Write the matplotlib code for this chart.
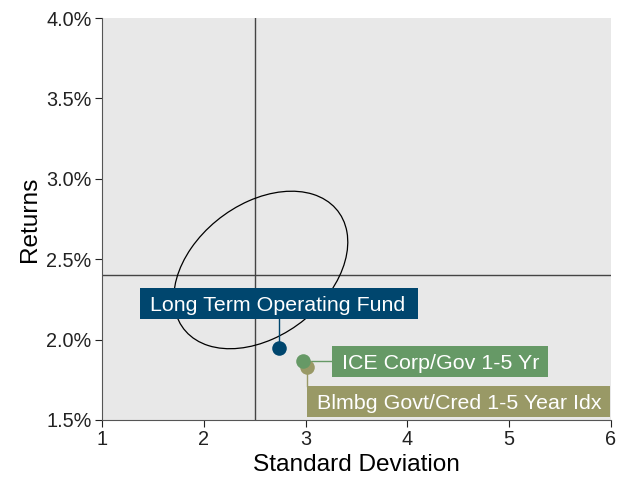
import matplotlib
matplotlib.use("Agg")
import matplotlib.pyplot as plt
from matplotlib.patches import Ellipse, Rectangle
from matplotlib.ticker import FuncFormatter

plt.rcParams["font.family"] = ["Liberation Sans", "DejaVu Sans"]

# risk / return per series (std dev, return %)
names = ["Blmbg Govt/Cred 1-5 Year Idx", "ICE Corp/Gov 1-5 Yr", "Long Term Operating Fund"]
std_dev = [3.01, 2.97, 2.74]
returns = [1.83, 1.867, 1.95]
colors = ["#999966", "#669966", "#00466e"]

# crosshair reference levels
ref_std = 2.5
ref_ret = 2.4

# ellipse around the fund's region (center, width, height, angle)
ell_center = (2.56, 2.433)
ell_width = 1.757
ell_height = 0.891
ell_angle = 15.6

x_ticks = [1, 2, 3, 4, 5, 6]
y_ticks = [1.5, 2.0, 2.5, 3.0, 3.5, 4.0]

fig = plt.figure(figsize=(6.23, 4.79), dpi=100)
ax = fig.add_axes([0.1637, 0.1232, 0.817, 0.8392])
ax.set_facecolor("#e8e8e8")

ax.set_xlim(1, 6)
ax.set_ylim(1.5, 4.0)
ax.set_xticks(x_ticks)
ax.set_yticks(y_ticks)
ax.yaxis.set_major_formatter(FuncFormatter(lambda v, _: f"{v:.1f}%"))
ax.tick_params(labelsize=14.3, colors="#222222", length=5, direction="out", pad=2.5)
for s in ["top", "right"]:
    ax.spines[s].set_visible(False)
for s in ["left", "bottom"]:
    ax.spines[s].set_color("#555555")

ax.set_xlabel("Standard Deviation", fontsize=17.6, labelpad=3)
ax.set_ylabel("Returns", fontsize=17.6, labelpad=4)

ax.axvline(ref_std, color="#444444", lw=1, zorder=1)
ax.axhline(ref_ret, color="#444444", lw=1, zorder=1)

ax.add_patch(Ellipse(ell_center, ell_width, ell_height, angle=ell_angle,
                     fill=False, ec="black", lw=0.9, zorder=2))

# label boxes: (x0, x1, y0, y1) and text anchor
boxes = [(3.014, 5.990, 1.519, 1.711), (3.259, 5.381, 1.767, 1.960), (1.373, 4.104, 2.128, 2.321)]
text_x = [3.11, 3.36, 1.47]

# leader lines from each point to its box
ax.plot([std_dev[0], std_dev[0]], [returns[0], boxes[0][3]], color=colors[0], lw=1, zorder=3)
ax.plot([std_dev[1], boxes[1][0]], [returns[1], returns[1]], color=colors[1], lw=1, zorder=3)
ax.plot([std_dev[2], std_dev[2]], [returns[2], boxes[2][2]], color=colors[2], lw=1, zorder=3)

for (x0, x1, y0, y1), tx, name, c in zip(boxes, text_x, names, colors):
    ax.add_patch(Rectangle((x0, y0), x1 - x0, y1 - y0, fc=c, ec="none", zorder=4))
    ax.text(tx, (y0 + y1) / 2, name, color="white", fontsize=15.4,
            ha="left", va="center_baseline", zorder=5)

for x, y, c in zip(std_dev, returns, colors):
    ax.scatter(x, y, s=110, color=c, zorder=6, linewidths=0)

fig.savefig("out.png", dpi=100)
